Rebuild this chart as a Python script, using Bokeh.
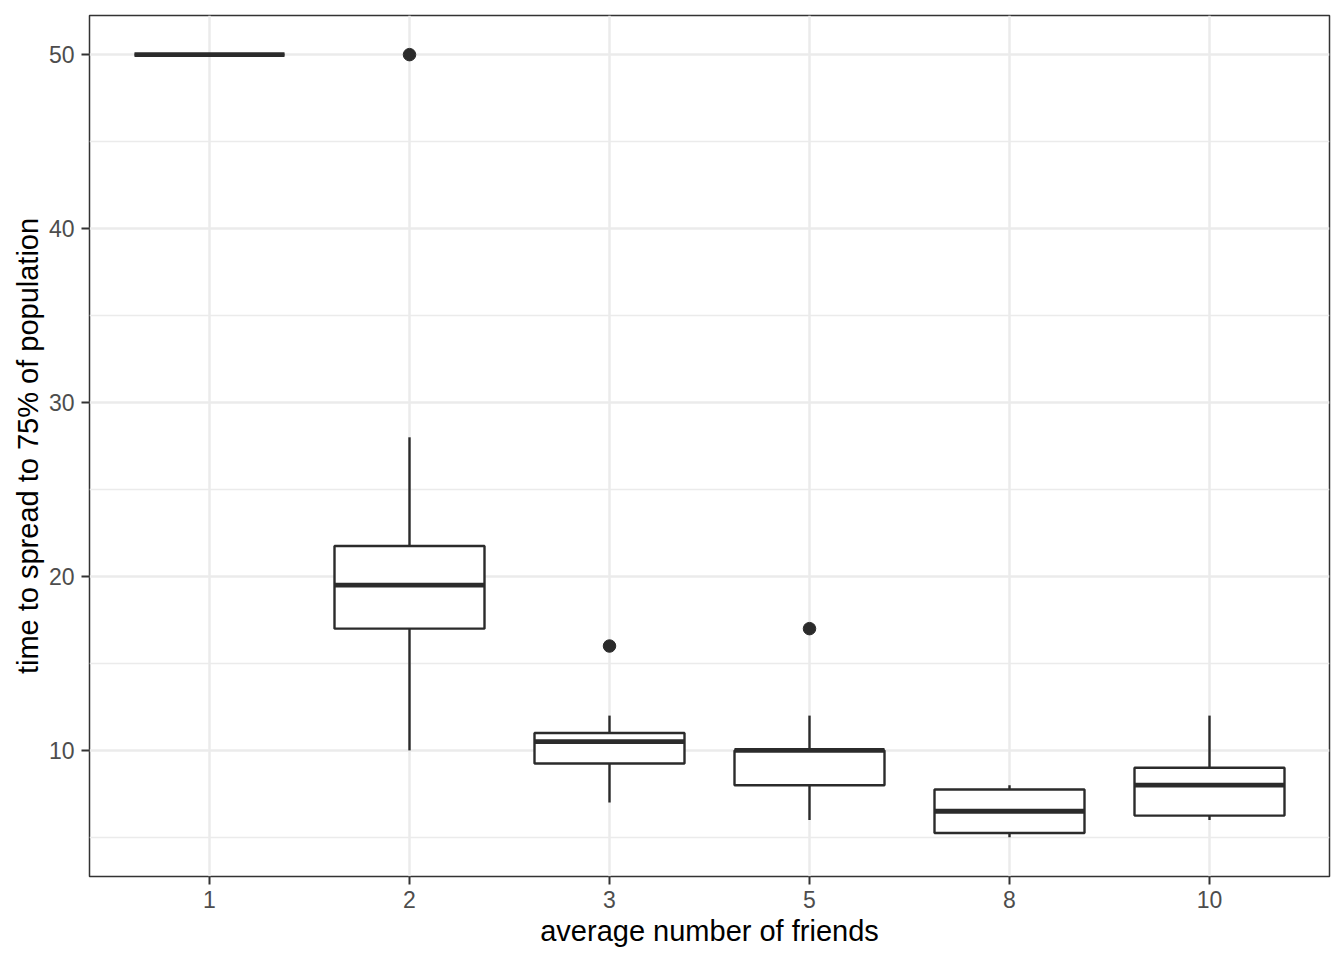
from bokeh.plotting import figure
from bokeh.models import Range1d, FixedTicker, ColumnDataSource
from bokeh.embed import file_html
from bokeh.resources import INLINE

# ---- data ----
categories = ["1", "2", "3", "5", "8", "10"]
q1 = [50, 17, 9.25, 8, 5.25, 6.25]
median = [50, 19.5, 10.5, 10, 6.5, 8]
q3 = [50, 21.75, 11, 10, 7.75, 9]
whisker_low = [50, 10, 7, 6, 5, 6]
whisker_high = [50, 28, 12, 12, 8, 12]
outlier_cat = ["2", "3", "5"]
outlier_val = [50, 16, 17]
y_ticks = [10, 20, 30, 40, 50]
y_minor = [5, 15, 25, 35, 45]

BOX_W = 0.75
LINE = "#2b2b2b"
FONT = "Liberation Sans"

xpos = [categories.index(c) + 1 for c in categories]
src = ColumnDataSource(dict(
    x=xpos,
    x0=[x - BOX_W / 2 for x in xpos],
    x1=[x + BOX_W / 2 for x in xpos],
    q1=q1, med=median, q3=q3, lo=whisker_low, hi=whisker_high,
))
osrc = ColumnDataSource(dict(
    x=[categories.index(c) + 1 for c in outlier_cat],
    y=outlier_val,
))

p = figure(width=1336, height=958, output_backend="svg", toolbar_location=None,
           x_range=Range1d(0.4, len(categories) + 0.6),
           y_range=Range1d(2.75, 52.25),
           min_border_left=89, min_border_right=7, min_border_top=15, min_border_bottom=82)

p.background_fill_color = "white"
p.border_fill_color = "white"
p.outline_line_color = "#333333"
p.outline_line_width = 1.5

# grids
p.xgrid.ticker = FixedTicker(ticks=xpos)
p.xgrid.grid_line_color = "#EBEBEB"
p.xgrid.grid_line_width = 2.5
p.ygrid.ticker = FixedTicker(ticks=y_ticks, minor_ticks=y_minor)
p.ygrid.grid_line_color = "#EBEBEB"
p.ygrid.grid_line_width = 2.5
p.ygrid.minor_grid_line_color = "#EBEBEB"
p.ygrid.minor_grid_line_width = 1.3

# axes
p.xaxis.ticker = FixedTicker(ticks=xpos)
p.xaxis.major_label_overrides = {x: c for x, c in zip(xpos, categories)}
p.yaxis.ticker = FixedTicker(ticks=y_ticks, minor_ticks=[])
for ax in (p.xaxis[0], p.yaxis[0]):
    ax.axis_line_color = None
    ax.major_tick_line_color = "#333333"
    ax.major_tick_line_width = 2
    ax.major_tick_out = 8
    ax.major_tick_in = 0
    ax.minor_tick_line_color = None
    ax.major_label_text_font = FONT
    ax.major_label_text_font_size = "23px"
    ax.major_label_text_color = "#4D4D4D"
    ax.axis_label_text_font = FONT
    ax.axis_label_text_font_size = "29px"
    ax.axis_label_text_font_style = "normal"
    ax.axis_label_text_color = "black"
p.xaxis.axis_label = "average number of friends"
p.yaxis.axis_label = "time to spread to 75% of population"
p.xaxis.major_label_standoff = 6
p.xaxis.axis_label_standoff = 4
p.yaxis.major_label_standoff = 7
p.yaxis.axis_label_standoff = 2

# whiskers
p.segment(x0="x", x1="x", y0="q3", y1="hi", source=src, line_color=LINE, line_width=2.4)
p.segment(x0="x", x1="x", y0="q1", y1="lo", source=src, line_color=LINE, line_width=2.4)
# boxes
p.vbar(x="x", width=BOX_W, top="q3", bottom="q1", source=src,
       fill_color="white", line_color=LINE, line_width=2.4)
# medians
p.segment(x0="x0", x1="x1", y0="med", y1="med", source=src, line_color=LINE, line_width=4.8)
# outliers
p.scatter(x="x", y="y", source=osrc, size=12.5, fill_color=LINE, line_color=LINE)

open("out.html", "w").write(file_html(p, INLINE))
